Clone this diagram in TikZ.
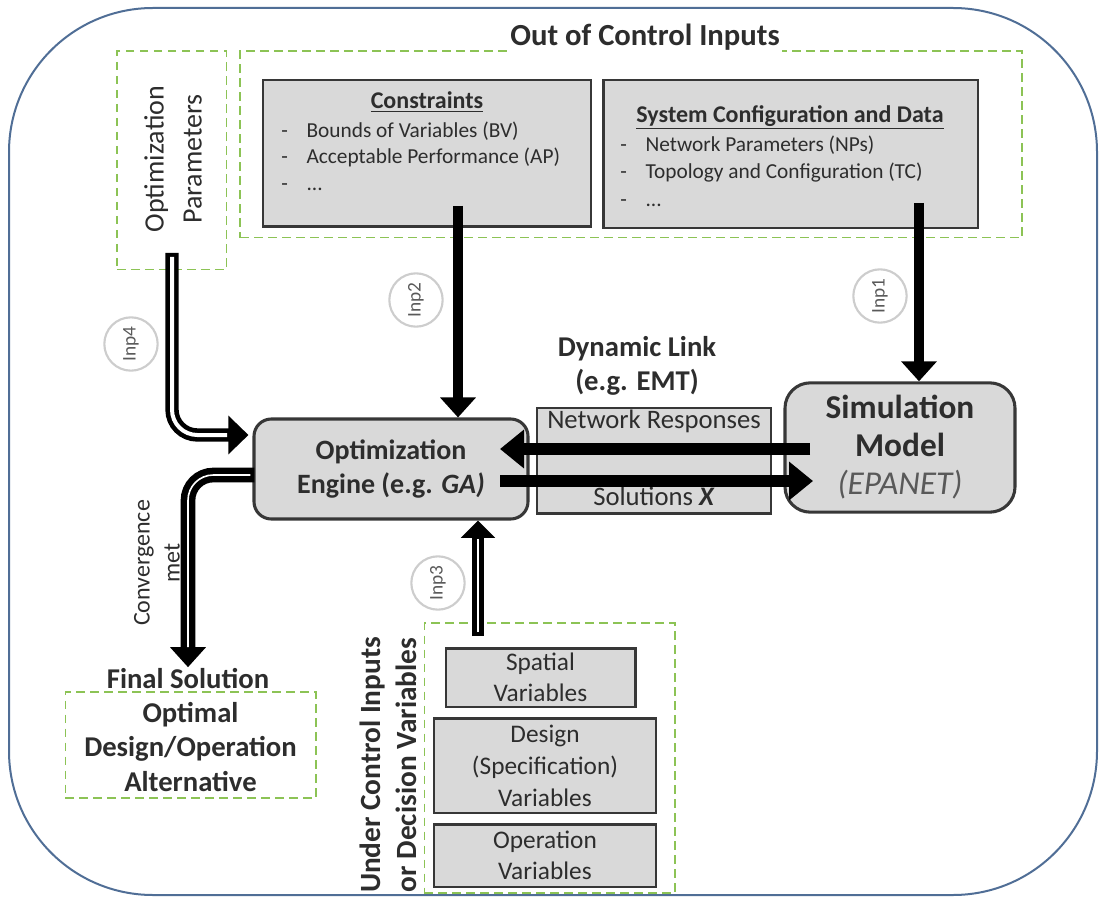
\documentclass[tikz,border=0pt]{standalone}
\usepackage{fontspec}
\setmainfont{Carlito}
\usetikzlibrary{arrows.meta,calc}
\definecolor{framecol}{RGB}{80,110,150}
\definecolor{dashgreen}{RGB}{140,195,85}
\definecolor{boxfill}{RGB}{217,217,217}
\definecolor{boxline}{RGB}{55,55,55}
\definecolor{txt}{RGB}{45,45,45}
\definecolor{circgray}{RGB}{205,205,205}
\newcommand{\fs}[2]{\fontsize{#1}{#2}\selectfont}
\newcommand{\itm}{\makebox[19pt][l]{-}}
\begin{document}
\begin{tikzpicture}[x=0.75pt, y=-0.75pt,
    graybox/.style={draw=boxline, fill=boxfill, line width=2pt, text=txt, align=center},
    greenbox/.style={draw=dashgreen, line width=1pt, dash pattern=on 6.5pt off 4pt},
    inpcirc/.style={circle, draw=circgray, line width=1.6pt, minimum size=40pt, inner sep=0pt,
        rotate=90, text=black!65, font=\fs{14.5}{16}},
    solidarrow/.style={line width=7.5pt, -{Triangle[length=15pt,width=26pt]}},
    linkarrow/.style={line width=8.5pt, -{Triangle[length=18pt,width=28pt]}},
    dblarrow/.style={line width=10pt, rounded corners=19pt, -{Triangle[length=15pt,width=28pt]}},
    dblinner/.style={white, line width=3pt, rounded corners=19pt, shorten >=16pt, shorten <=3pt}]
    \useasboundingbox (0,0) rectangle (1099,898);
    \draw[framecol, line width=1.5pt, rounded corners=108pt] (9,8) rectangle (1097,895);

    % out of control inputs
    \node[greenbox, minimum width=586.5pt, minimum height=140pt] (ocbox) at (631,144.5) {};
    \node[graybox, minimum width=246pt, minimum height=110pt] (cons) at (427,153.5) {};
    \node[graybox, minimum width=281pt, minimum height=111pt] (sysconf) at (790.5,154) {};
    \node[fill=white, inner sep=2pt, text=txt, font=\bfseries\fs{23}{26}] (octitle) at (645,37) {Out of Control Inputs};
    \node[text=txt, font=\bfseries\fs{18}{22}] (constitle) at (427,102) {\underline{Constraints}};
    \node[anchor=west, align=left, inner sep=0pt, text=txt, font=\fs{16}{20}] (conslist) at (281,156)
        {\itm Bounds of Variables (BV)\\\itm Acceptable Performance (AP)\\\itm ...};
    \node[text=txt, font=\bfseries\fs{18}{22}] (systitle) at (790,117) {\underline{System Configuration and Data}};
    \node[anchor=west, align=left, inner sep=0pt, text=txt, font=\fs{16}{20.5}] (syslist) at (620,171)
        {\itm Network Parameters (NPs)\\\itm Topology and Configuration (TC)\\\itm ...};

    % optimization parameters
    \node[greenbox, minimum width=82pt, minimum height=164pt] (oparbox) at (171.5,160.5) {};
    \node[rotate=90, align=center, text=txt, font=\fs{21}{28.5}] (opar) at (173,159) {Optimization\\Parameters};

    % main blocks
    \node[graybox, rounded corners=13pt, line width=2.3pt, minimum width=205.5pt, minimum height=75pt,
        font=\bfseries\fs{21}{26}] (engine) at (391,469) {Optimization\\Engine (e.g. \textit{GA)}};
    \node[graybox, minimum width=175.5pt, minimum height=79pt] (dlbox) at (654,460.5) {};
    \node[text=txt, font=\fs{20}{24}] (nresp) at (654,421) {Network Responses};
    \node[text=txt, font=\fs{20}{24}] (solx) at (654,496) {Solutions \textbf{\textit{X}}};
    \node[align=center, text=txt, font=\bfseries\fs{21.5}{25}] (dltitle) at (637,366) {Dynamic Link\\(e.g. EMT)};
    \node[graybox, rounded corners=19pt, line width=2.3pt, minimum width=172.5pt, minimum height=97pt,
        font=\bfseries\fs{25}{28.5}] (sim) at (900,447.5) {Simulation\\Model\\{\mdseries\itshape\color{black!65}(EPANET)}};

    % final solution
    \node[text=txt, inner sep=1pt, font=\bfseries\fs{21.5}{26}] (fstitle) at (188,679) {Final Solution};
    \node[greenbox, minimum width=188pt, minimum height=79.5pt] (fsbox) at (190.5,745) {};
    \node[align=center, text=txt, font=\bfseries\fs{21.5}{26}] (fstext) at (190.5,747) {Optimal\\Design/Operation\\Alternative};
    \node[rotate=90, align=center, text=txt, font=\fs{18}{22.5}] (conv) at (157,563) {Convergence\\met};

    % under control inputs
    \node[greenbox, minimum width=188pt, minimum height=202.5pt] (ucbox) at (549.5,758) {};
    \node[rotate=90, align=center, text=txt, font=\bfseries\fs{22}{27}] (uctitle) at (388,765) {Under Control Inputs\\or Decision Variables};
    \node[graybox, minimum width=142pt, minimum height=44pt, font=\fs{19}{23}] (spatial) at (540.5,677.5) {Spatial\\Variables};
    \node[graybox, minimum width=166.5pt, minimum height=71pt, font=\fs{19}{24}] (design) at (545,765.5) {Design\\(Specification)\\Variables};
    \node[graybox, minimum width=166.5pt, minimum height=47pt, font=\fs{19}{23}] (operation) at (545,855.5) {Operation\\Variables};

    % input arrows
    \coordinate (inp1s) at (919,203);
    \coordinate (inp2s) at (458,206);
    \coordinate (inp3s) at (478,636);
    \coordinate (inp4s) at (172,253);
    \draw[solidarrow] (inp1s) -- (inp1s |- sim.north);
    \draw[solidarrow] (inp2s) -- (inp2s |- engine.north);
    \draw[dblarrow, line width=9pt, -{Triangle[length=13pt,width=25pt]}] (inp3s) -- (inp3s |- engine.south);
    \draw[dblinner, line width=2.2pt, shorten >=14pt] (inp3s) -- (inp3s |- engine.south);
    \draw[dblarrow] (inp4s) |- ($(engine.west)+(-4,-34)$);
    \draw[dblinner] (inp4s) |- ($(engine.west)+(-4,-34)$);
    \draw[dblarrow, line width=11pt, -{Triangle[length=15pt,width=26pt]}] ($(engine.west)+(2,6)$) -| (fstitle.north);
    \draw[dblinner, line width=1.2pt, shorten >=15pt] ($(engine.west)+(2,6)$) -| (fstitle.north);

    % dynamic link arrows
    \coordinate (respS) at (810,449);
    \coordinate (respE) at (500,449);
    \coordinate (solS) at (500,481);
    \coordinate (solE) at (813,481);
    \draw[linkarrow] (respS) -- (respE);
    \draw[linkarrow] (solS) -- (solE);

    \node[inpcirc] (inp1) at (880,296) {Inp1};
    \node[inpcirc] (inp2) at (416,300) {Inp2};
    \node[inpcirc] (inp3) at (438,583) {Inp3};
    \node[inpcirc] (inp4) at (131,344) {Inp4};
\end{tikzpicture}
\end{document}
